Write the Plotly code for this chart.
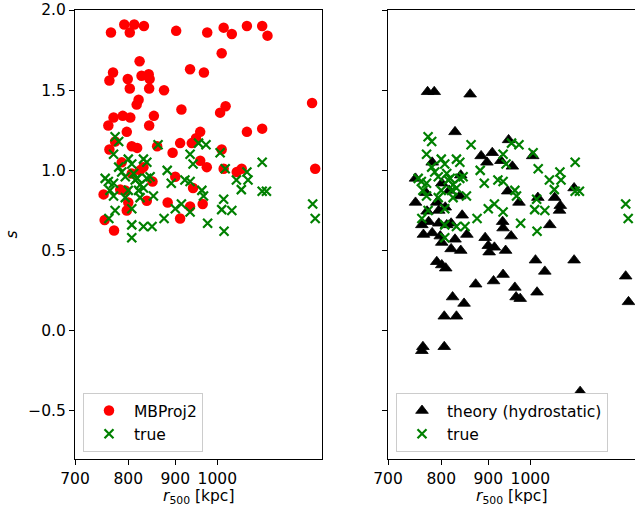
import numpy as np
import plotly.graph_objects as go
from plotly.subplots import make_subplots

# MBProj2 (left panel, red circles)
mb_r500 = [766, 792, 803, 812, 832, 902, 975, 1016, 1037, 1077, 1119, 1134, 1011, 823, 770, 763, 799, 803, 827, 842,
           844, 843, 875, 934, 967, 821, 817, 1268, 914, 1007, 1021, 761, 771, 789, 804, 853, 843, 797, 1077, 1119,
           958, 948, 938, 911, 763, 774, 807, 818, 860, 894, 1011, 958, 974, 1016, 1050, 1063, 1278, 787, 831, 824,
           900, 752, 784, 794, 800, 797, 838, 850, 883, 934, 964, 941, 911, 754, 772, 807]
mb_s = [1.86, 1.91, 1.86, 1.91, 1.90, 1.87, 1.86, 1.89, 1.85, 1.90, 1.90, 1.84, 1.73, 1.68, 1.61, 1.56, 1.57, 1.51, 1.59, 1.60,
        1.57, 1.51, 1.50, 1.63, 1.61, 1.44, 1.41, 1.42, 1.38, 1.36, 1.40, 1.28, 1.33, 1.34, 1.33, 1.34, 1.28, 1.24, 1.24, 1.26,
        1.24, 1.20, 1.17, 1.17, 1.13, 1.18, 1.15, 1.14, 1.15, 1.11, 1.13, 1.06, 1.02, 1.01, 0.99, 1.01, 1.01, 1.05, 1.02, 1.00,
        0.96, 0.85, 0.88, 0.875, 0.80, 0.75, 0.81, 0.93, 0.80, 0.775, 0.79, 0.89, 0.70, 0.69, 0.625, 0.98]

# true values (both panels, green crosses)
true_r500 = [774, 781, 771, 862, 954, 972, 934, 941, 1007, 1119, 1020, 1077, 1049, 1080, 1062, 1119, 1131, 962, 966, 1016,
             1011, 1037, 976, 1017, 1270, 1278, 800, 807, 831, 838, 781, 787, 755, 761, 794, 814, 838, 845, 882, 891,
             922, 934, 764, 771, 800, 821, 852, 774, 807, 900, 914, 934, 875, 807, 831, 849, 807, 762, 811, 818,
             824, 824, 794, 771, 831]
true_s = [1.21, 1.18, 1.10, 1.16, 1.17, 1.16, 1.10, 1.04, 1.11, 1.05, 1.01, 0.99, 0.94, 0.94, 0.88, 0.87, 0.87, 0.875, 0.84, 0.82,
          0.755, 0.75, 0.67, 0.62, 0.79, 0.70, 1.07, 1.04, 1.07, 1.05, 1.02, 0.99, 0.95, 0.93, 0.96, 0.94, 0.95, 0.96, 1.00, 0.92,
          0.94, 0.93, 0.875, 0.84, 0.875, 0.875, 0.84, 0.75, 0.76, 0.76, 0.79, 0.74, 0.70, 0.66, 0.65, 0.65, 0.58, 0.70, 0.98, 0.95,
          0.91, 0.83, 0.83, 0.92, 0.89]

# theory (hydrostatic) (right panel, black triangles)
th_r500 = [773, 786, 860, 828, 947, 884, 909, 897, 929, 956, 1006, 782, 1116, 750, 801, 770, 840, 945, 838, 816,
           750, 972, 1019, 1063, 1078, 772, 795, 843, 775, 762, 765, 782, 795, 798, 801, 811, 820, 828, 820, 840,
           853, 791, 801, 809, 872, 823, 847, 806, 831, 764, 762, 806, 893, 900, 902, 914, 933, 934, 953, 940,
           912, 934, 962, 965, 975, 1017, 1013, 1037, 1050, 1076, 1116, 1270, 1279, 1133, 791, 808]
th_s = [1.49, 1.49, 1.475, 1.24, 1.19, 1.09, 1.11, 1.05, 1.06, 1.025, 1.09, 1.05, 0.89, 0.95, 0.92, 0.86, 0.97, 0.87, 0.84, 0.875,
        0.80, 0.80, 0.83, 0.83, 0.78, 0.745, 0.75, 0.72, 0.68, 0.66, 0.60, 0.61, 0.67, 0.59, 0.55, 0.66, 0.67, 0.57, 0.51, 0.50,
        0.60, 0.43, 0.41, 0.39, 0.29, 0.21, 0.17, 0.09, 0.09, -0.10, -0.125, -0.10, 0.58, 0.53, 0.49, 0.52, 0.68, 0.64, 0.59, 0.50,
        0.31, 0.35, 0.27, 0.21, 0.20, 0.24, 0.44, 0.37, 0.66, 0.75, 0.44, 0.34, 0.18, -0.38, 0.80, 0.77]

x_ticks = [700, 800, 900, 1000]
x_ticklabels = ["700", "800", "900", "1000"]
y_ticks = [-0.5, 0.0, 0.5, 1.0, 1.5, 2.0]
x_range = [700, 1300]
y_range = [-0.8, 2.0]

FONT = "DejaVu Sans"
FS = 15.5
W, H = 635, 514
ML, MR, MT, MB = 75, 0, 10, 55
pw = W - ML - MR
ph = H - MT - MB
panel_w = 247

fig = make_subplots(rows=1, cols=2)

red = "#ff0000"
green = "#008000"

fig.add_trace(go.Scatter(x=mb_r500, y=mb_s, mode="markers", name="MBProj2",
                         marker=dict(symbol="circle", size=10.5, color=red, line=dict(width=0)),
                         legend="legend"), row=1, col=1)
fig.add_trace(go.Scatter(x=true_r500, y=true_s, mode="markers", name="true",
                         marker=dict(symbol="x-thin", size=9, color=green, line=dict(width=2.2, color=green)),
                         legend="legend"), row=1, col=1)
fig.add_trace(go.Scatter(x=th_r500, y=th_s, mode="markers", name="theory (hydrostatic)",
                         marker=dict(symbol="triangle-up", size=11, color="black", line=dict(width=0.8, color="black")),
                         legend="legend2"), row=1, col=2)
fig.add_trace(go.Scatter(x=true_r500, y=true_s, mode="markers", name="true",
                         marker=dict(symbol="x-thin", size=9, color=green, line=dict(width=2.2, color=green)),
                         legend="legend2"), row=1, col=2)

axis_common = dict(showline=True, linecolor="black", linewidth=1, mirror=True, ticks="outside",
                   ticklen=5, tickwidth=1, tickcolor="black", showgrid=False, zeroline=False,
                   tickfont=dict(family=FONT, size=FS, color="black"))

d1 = [0, panel_w / pw]
d2 = [(pw - panel_w) / pw, 1]
fig.update_layout(
    xaxis=dict(type="log", range=[np.log10(x_range[0]), np.log10(x_range[1])], domain=d1,
               tickvals=x_ticks, ticktext=x_ticklabels, **axis_common),
    xaxis2=dict(type="log", range=[np.log10(x_range[0]), np.log10(x_range[1])], domain=d2,
                tickvals=x_ticks, ticktext=x_ticklabels, **axis_common),
    yaxis=dict(range=y_range, tickvals=y_ticks, tickformat=".1f", **axis_common),
    yaxis2=dict(range=y_range, tickvals=y_ticks, showticklabels=False, matches="y", **axis_common),
)

leg_common = dict(bgcolor="white", bordercolor="#cccccc", borderwidth=1,
                  font=dict(family=FONT, size=FS, color="black"),
                  xanchor="left", yanchor="bottom", itemwidth=40, tracegroupgap=0)
fig.update_layout(
    legend=dict(x=(83 - ML) / pw, y=(MT + ph - 452) / ph, **leg_common),
    legend2=dict(x=(396 - ML) / pw, y=(MT + ph - 452) / ph, **leg_common),
)

# axis titles
annots = [
    dict(text="<i>s</i>", x=(11 - ML) / pw, y=0.5, xref="paper", yref="paper", showarrow=False,
         textangle=-90, xanchor="center", yanchor="middle", font=dict(family=FONT, size=FS, color="black")),
    dict(text="<i>r</i><sub>500</sub> [kpc]", x=(panel_w / 2) / pw, y=(MT + ph - 497) / ph, xref="paper", yref="paper",
         showarrow=False, xanchor="center", yanchor="middle", font=dict(family=FONT, size=FS, color="black")),
    dict(text="<i>r</i><sub>500</sub> [kpc]", x=(pw - panel_w / 2) / pw, y=(MT + ph - 497) / ph, xref="paper", yref="paper",
         showarrow=False, xanchor="center", yanchor="middle", font=dict(family=FONT, size=FS, color="black")),
]

fig.update_layout(
    width=W, height=H,
    margin=dict(l=ML, r=MR, t=MT, b=MB, pad=0),
    paper_bgcolor="white", plot_bgcolor="white",
    font=dict(family=FONT, size=FS, color="black"),
    annotations=annots,
    showlegend=True,
)

fig.write_html("out.html")
